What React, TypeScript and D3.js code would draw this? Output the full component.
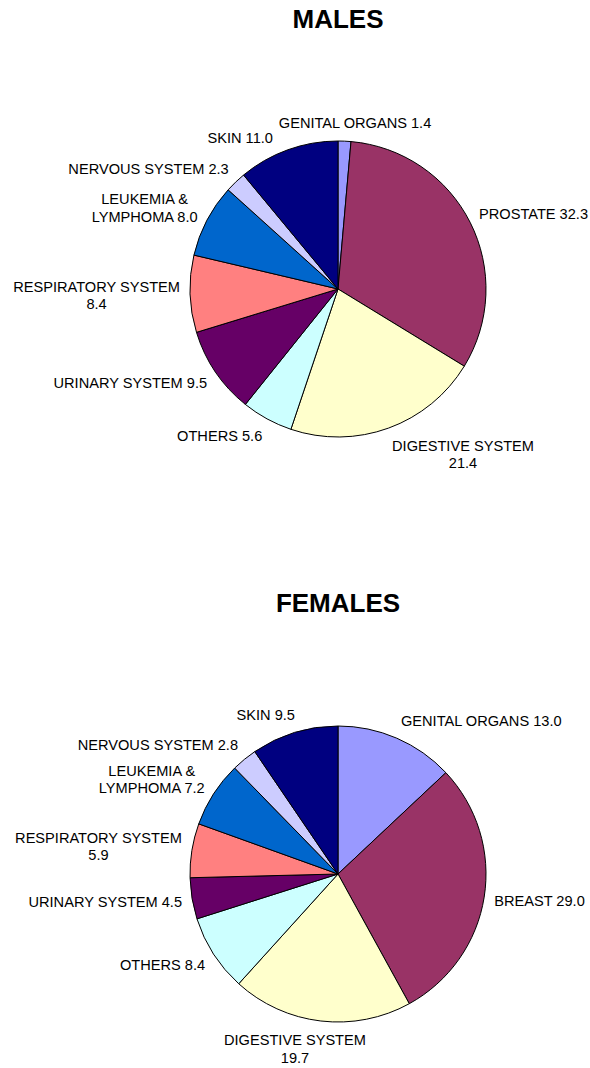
import React from "react";
import * as d3 from "d3";

const maleCategories = ["GENITAL ORGANS", "PROSTATE", "DIGESTIVE SYSTEM", "OTHERS", "URINARY SYSTEM", "RESPIRATORY SYSTEM", "LEUKEMIA &|LYMPHOMA", "NERVOUS SYSTEM", "SKIN"];
const maleValues = [1.4, 32.3, 21.4, 5.6, 9.5, 8.4, 8.0, 2.3, 11.0];
const femaleCategories = ["GENITAL ORGANS", "BREAST", "DIGESTIVE SYSTEM", "OTHERS", "URINARY SYSTEM", "RESPIRATORY SYSTEM", "LEUKEMIA &|LYMPHOMA", "NERVOUS SYSTEM", "SKIN"];
const femaleValues = [13.0, 29.0, 19.7, 8.4, 4.5, 5.9, 7.2, 2.8, 9.5];
const sliceColors = ["#9999FF", "#993366", "#FFFFCC", "#CCFFFF", "#660066", "#FF8080", "#0066CC", "#CCCCFF", "#000080"];
const valueOnNewLine = ["RESPIRATORY SYSTEM", "DIGESTIVE SYSTEM"];

const W = 590;
const H = 1068;
const FONT = '"Liberation Sans", Arial, sans-serif';
const FS = 14.6;
const LH = 17.5;

let ctx: CanvasRenderingContext2D | null = null;
function textWidth(s: string): number {
  if (!ctx) {
    const c = document.createElement("canvas");
    ctx = c.getContext("2d");
  }
  if (!ctx) return s.length * FS * 0.6;
  ctx.font = `${FS}px ${FONT}`;
  return ctx.measureText(s).width;
}

function labelLines(name: string, value: number): string[] {
  const v = value.toFixed(1);
  const parts = name.split("|");
  if (valueOnNewLine.includes(name)) return [name, v];
  parts[parts.length - 1] = parts[parts.length - 1] + " " + v;
  return parts;
}

type Box = { x0: number; x1: number; y0: number; y1: number; cx: number; cy: number; mid: number };

function PieChart({ title, categories, values, cx, cy, r, titleY }: { title: string; categories: string[]; values: number[]; cx: number; cy: number; r: number; titleY: number }) {
  const pie = d3.pie<number>().sort(null).value((d) => d)(values);
  const arc = d3.arc<d3.PieArcDatum<number>>().innerRadius(0).outerRadius(r);
  const pad = 10;
  const gap = 5;
  const placed: Box[] = [];
  const labels = pie.map((p, i) => {
    const lines = labelLines(categories[i], values[i]);
    const w = Math.max(...lines.map(textWidth));
    const h = lines.length * LH;
    const mid = (p.startAngle + p.endAngle) / 2;
    const place = (t: number): Box => {
      const s = Math.sin(t);
      const c = Math.cos(t);
      const ax = cx + (r + pad) * s;
      const ay = cy - (r + pad) * c;
      const f = Math.max(-1, Math.min(1, 3 * s));
      const bx = ax + (w / 2) * f;
      const by = ay - (h / 2) * c;
      return { x0: bx - w / 2, x1: bx + w / 2, y0: by - h / 2, y1: by + h / 2, cx: bx, cy: by, mid: t };
    };
    let theta = mid;
    let box = place(theta);
    for (let step = 0; step < 80; step++) {
      const hit = placed.find((b) => box.x0 < b.x1 + gap && box.x1 > b.x0 - gap && box.y0 < b.y1 + gap && box.y1 > b.y0 - gap);
      if (!hit) break;
      let diff = theta - hit.mid;
      while (diff > Math.PI) diff -= 2 * Math.PI;
      while (diff < -Math.PI) diff += 2 * Math.PI;
      theta += (diff >= 0 ? 1 : -1) * (0.5 * Math.PI) / 180;
      box = place(theta);
    }
    placed.push(box);
    return { lines, box };
  });

  return (
    <g>
      <text x={cx} y={titleY} textAnchor="middle" fontFamily={FONT} fontWeight="bold" fontSize={26} fill="#000">
        {title}
      </text>
      <g transform={`translate(${cx},${cy})`}>
        {pie.map((p, i) => (
          <path key={i} d={arc(p) || ""} fill={sliceColors[i]} stroke="#000" strokeWidth={1} strokeLinejoin="round" />
        ))}
      </g>
      {labels.map((l, i) => {
        const firstBaseline = l.box.cy - ((l.lines.length - 1) * LH) / 2 + 5.5;
        return (
          <text key={i} textAnchor="middle" fontFamily={FONT} fontSize={FS} fill="#000">
            {l.lines.map((ln, j) => (
              <tspan key={j} x={l.box.cx} y={firstBaseline + j * LH}>
                {ln}
              </tspan>
            ))}
          </text>
        );
      })}
    </g>
  );
}

export default function App() {
  return (
    <svg width={W} height={H} style={{ position: "absolute", left: 0, top: 0, background: "#fff" }}>
      <rect x={0} y={0} width={W} height={H} fill="#fff" />
      <PieChart title="MALES" categories={maleCategories} values={maleValues} cx={338} cy={289} r={148} titleY={28} />
      <PieChart title="FEMALES" categories={femaleCategories} values={femaleValues} cx={338} cy={874} r={148} titleY={612} />
    </svg>
  );
}
